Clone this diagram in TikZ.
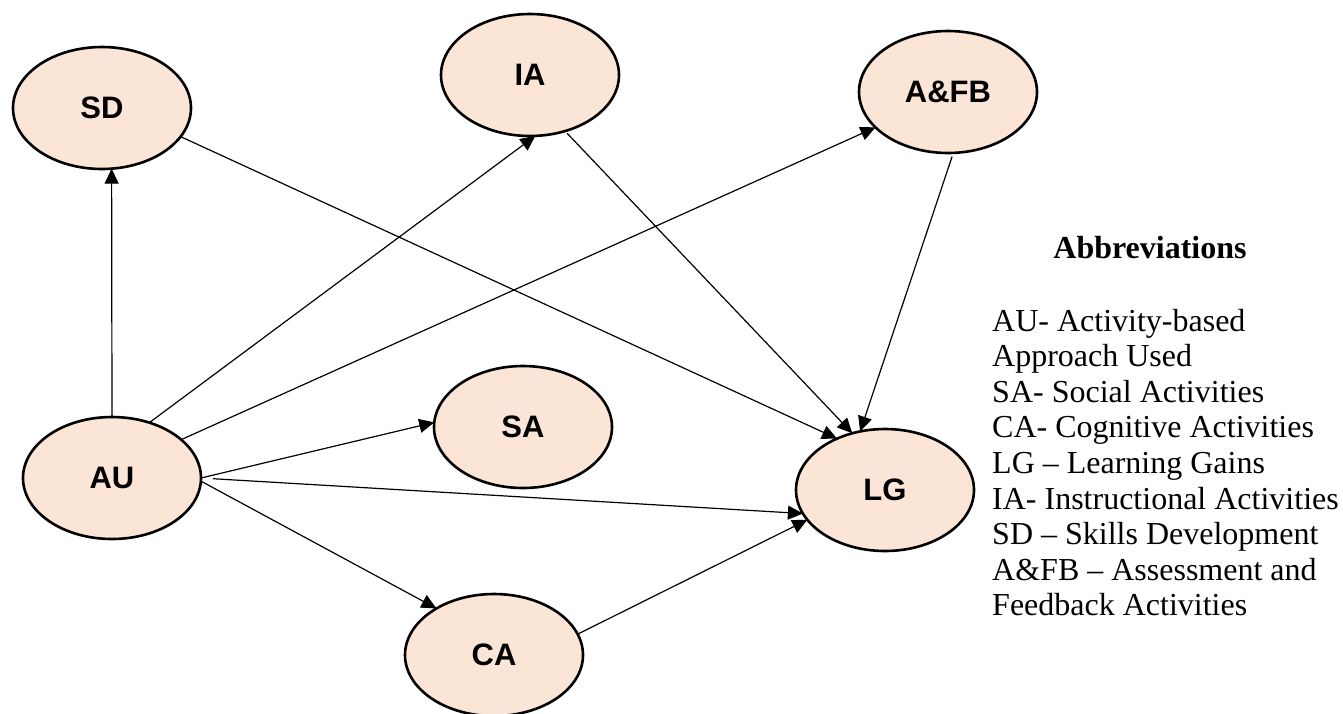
\documentclass[tikz,border=0pt]{standalone}
\usepackage{fontspec}
\setmainfont{Liberation Serif}
\newfontfamily\labelfont{Liberation Sans}
\usetikzlibrary{shapes.geometric,arrows.meta}
\definecolor{peach}{RGB}{251,229,214}
\begin{document}
\begin{tikzpicture}[x=1pt,y=-1pt,
  construct/.style={ellipse,draw=black,line width=2.6pt,fill=peach,
    minimum width=178pt,minimum height=122pt,inner sep=0pt,outer sep=0pt,
    font=\labelfont\bfseries\fontsize{31}{36}\selectfont},
  link/.style={line width=1.2pt,-{Triangle[length=15pt,width=14pt]}},
  legend/.style={anchor=base west,inner sep=0pt,font=\fontsize{32}{36}\selectfont}]
  \useasboundingbox (0,0) rectangle (1343,713);

  % constructs
  \node[construct] (SD)  at (102,108) {\raisebox{-3pt}{SD}};
  \node[construct] (IA)  at (530,75)  {IA};
  \node[construct] (AFB) at (948,92)  {A\&FB};
  \node[construct] (AU)  at (112,478) {AU};
  \node[construct] (SA)  at (523,427) {SA};
  \node[construct] (LG)  at (885,490) {LG};
  \node[construct] (CA)  at (494,655) {CA};

  % paths from the activity-based approach
  \draw[link] (AU.north) -- (SD.-81);
  \draw[link] (AU.56) -- (IA.-85);
  \draw[link] (AU.29) -- (AFB.206);
  \draw[link] (AU.east) -- (SA.177);
  \draw[link,shorten <=12pt] (AU.east) -- (LG.196);
  \draw[link] (AU.-2) -- (CA.141);

  % paths into learning gains
  \draw[link] (CA.14) -- (LG.201);
  \draw[link] (SD.-20) -- (LG.133);
  \draw[link,shorten <=3pt] (IA.-58) -- (LG.120);
  \draw[link,shorten <=4pt] (AFB.-85) -- (LG.113);

  % abbreviations
  \node[anchor=base,inner sep=0pt,font=\bfseries\fontsize{32}{36}\selectfont]
    (abbr) at (1150,258) {Abbreviations};
  \node[legend] (l1) at (992,331)   {AU- Activity-based};
  \node[legend] (l2) at (992,366.6) {Approach Used};
  \node[legend] (l3) at (992,402.2) {SA- Social Activities};
  \node[legend] (l4) at (992,437.8) {CA- Cognitive Activities};
  \node[legend] (l5) at (992,473.4) {LG -- Learning Gains};
  \node[legend] (l6) at (992,509)   {IA- Instructional Activities};
  \node[legend] (l7) at (992,544.6) {SD -- Skills Development};
  \node[legend] (l8) at (992,580.2) {A\&FB -- Assessment and};
  \node[legend] (l9) at (992,615.8) {Feedback Activities};
\end{tikzpicture}
\end{document}
